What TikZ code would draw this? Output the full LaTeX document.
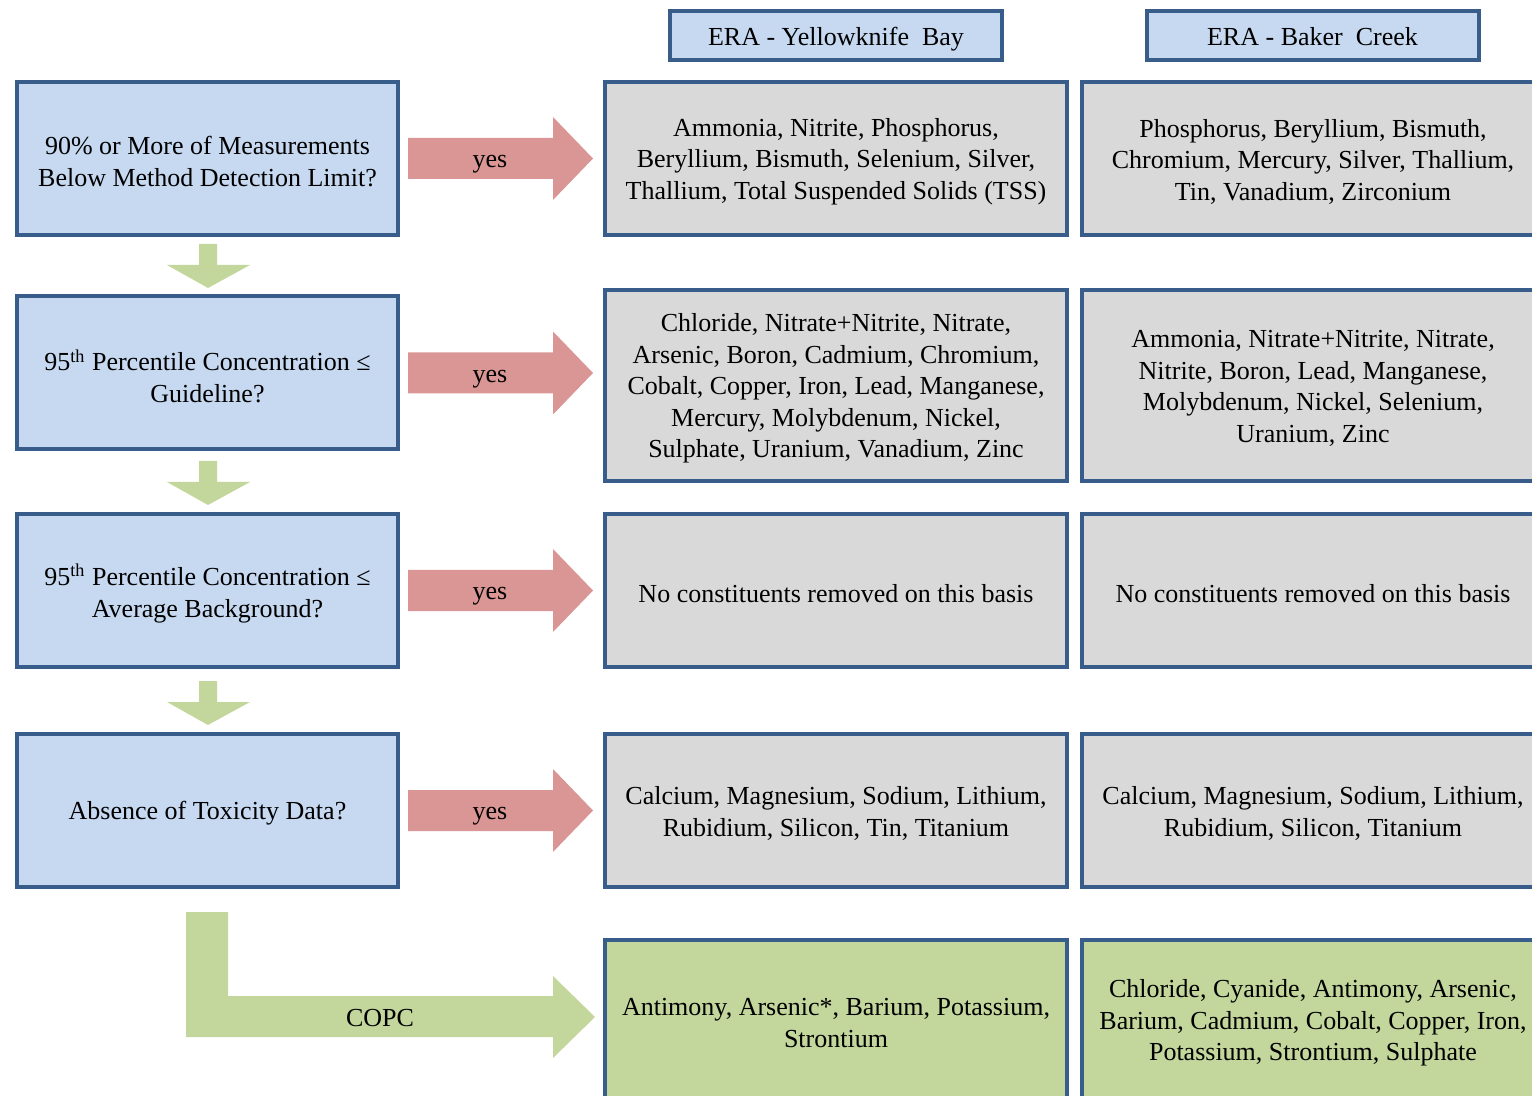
\documentclass[tikz,border=0pt]{standalone}
\usepackage{fontspec}
\setmainfont{Liberation Serif}
\definecolor{boxline}{HTML}{385D8A}
\definecolor{qblue}{HTML}{C6D9F1}
\definecolor{rgray}{HTML}{D9D9D9}
\definecolor{agreen}{HTML}{C3D69B}
\definecolor{ared}{HTML}{D99694}
\begin{document}
\begin{tikzpicture}[x=0.5pt,y=-0.5pt,
  txt/.style={font=\fontsize{13}{15.75}\selectfont},
  box/.style={draw=boxline, line width=2pt, inner sep=0pt},
  question/.style={box, fill=qblue, minimum width=190.5pt, minimum height=76.5pt},
  header/.style={box, fill=qblue, minimum width=166pt, minimum height=24.5pt},
  result/.style={box, fill=rgray, minimum width=231pt, minimum height=76.5pt},
  copcbox/.style={box, fill=agreen, minimum width=231pt, minimum height=80pt},
  body/.style={txt, align=center, inner sep=0pt, yshift=-1.5pt},
  lbl/.style={txt, inner sep=0pt}]
\useasboundingbox (0,0) rectangle (1532,1096);
\clip (0,0) rectangle (1532,1096);

% column headers
\node[header] (hyb) at (836,35.5) {};
\node[header] (hbc) at (1312.5,35.5) {};
\node[body, yshift=-0.5pt] (hybt) at (hyb.center) {\strut ERA - Yellowknife\ \ Bay};
\node[body, yshift=-0.5pt] (hbct) at (hbc.center) {\strut ERA - Baker\ \ Creek};

% screening questions
\node[question] (q1) at (207.5,158.5) {};
\node[question] (q2) at (207.5,373) {};
\node[question] (q3) at (207.5,590.5) {};
\node[question] (q4) at (207.5,810.5) {};
\node[body] (q1t) at (q1.center) {90\% or More of Measurements\\Below Method Detection Limit?};
\node[body] (q2t) at (q2.center) {95\textsuperscript{th} Percentile Concentration ≤\\Guideline?};
\node[body] (q3t) at (q3.center) {95\textsuperscript{th} Percentile Concentration ≤\\Average Background?};
\node[body] (q4t) at (q4.center) {Absence of Toxicity Data?};

% Yellowknife Bay results
\node[result] (y1) at (836,158.5) {};
\node[result, minimum height=95.5pt] (y2) at (836,385.5) {};
\node[result] (y3) at (836,590.5) {};
\node[result] (y4) at (836,810.5) {};
\node[copcbox] (y5) at (836,1020) {};
\node[body] (y1t) at (y1.center) {Ammonia, Nitrite, Phosphorus,\\Beryllium, Bismuth, Selenium, Silver,\\Thallium, Total Suspended Solids (TSS)};
\node[body] (y2t) at (y2.center) {Chloride, Nitrate+Nitrite, Nitrate,\\Arsenic, Boron, Cadmium, Chromium,\\Cobalt, Copper, Iron, Lead, Manganese,\\Mercury, Molybdenum, Nickel,\\Sulphate, Uranium, Vanadium, Zinc};
\node[body] (y3t) at (y3.center) {No constituents removed on this basis};
\node[body] (y4t) at (y4.center) {Calcium, Magnesium, Sodium, Lithium,\\Rubidium, Silicon, Tin, Titanium};
\node[body] (y5t) at (y5.center) {Antimony, Arsenic*, Barium, Potassium,\\Strontium};

% Baker Creek results
\node[result] (b1) at (1313,158.5) {};
\node[result, minimum height=95.5pt] (b2) at (1313,385.5) {};
\node[result] (b3) at (1313,590.5) {};
\node[result] (b4) at (1313,810.5) {};
\node[copcbox] (b5) at (1313,1020) {};
\node[body] (b1t) at (b1.center) {Phosphorus, Beryllium, Bismuth,\\Chromium, Mercury, Silver, Thallium,\\Tin, Vanadium, Zirconium};
\node[body] (b2t) at (b2.center) {Ammonia, Nitrate+Nitrite, Nitrate,\\Nitrite, Boron, Lead, Manganese,\\Molybdenum, Nickel, Selenium,\\Uranium, Zinc};
\node[body] (b3t) at (b3.center) {No constituents removed on this basis};
\node[body] (b4t) at (b4.center) {Calcium, Magnesium, Sodium, Lithium,\\Rubidium, Silicon, Titanium};
\node[body] (b5t) at (b5.center) {Chloride, Cyanide, Antimony, Arsenic,\\Barium, Cadmium, Cobalt, Copper, Iron,\\Potassium, Strontium, Sulphate};

% "yes" block arrows
\foreach \yc/\nm in {158.5/1, 373/2, 590.5/3, 810.5/4} {
  \fill[ared] (408,{\yc-20.5}) -- (553,{\yc-20.5}) -- (553,{\yc-41.5}) -- (593,\yc)
    -- (553,{\yc+41.5}) -- (553,{\yc+20.5}) -- (408,{\yc+20.5}) -- cycle;
  \node[lbl] (yes\nm) at (490,{\yc+6}) {yes};
}

% downward block arrows between questions
\foreach \yt in {244, 461, 681} {
  \fill[agreen] (199,\yt) -- (217,\yt) -- (217,{\yt+21}) -- (250,{\yt+21}) -- (208,{\yt+44})
    -- (167,{\yt+21}) -- (199,{\yt+21}) -- cycle;
}

% bent COPC arrow
\fill[agreen] (186,912) -- (228,912) -- (228,996) -- (553,996) -- (553,976) -- (595,1017)
  -- (553,1058) -- (553,1037) -- (186,1037) -- cycle;
\node[lbl] (copc) at (380,1018) {COPC};
\end{tikzpicture}
\end{document}
